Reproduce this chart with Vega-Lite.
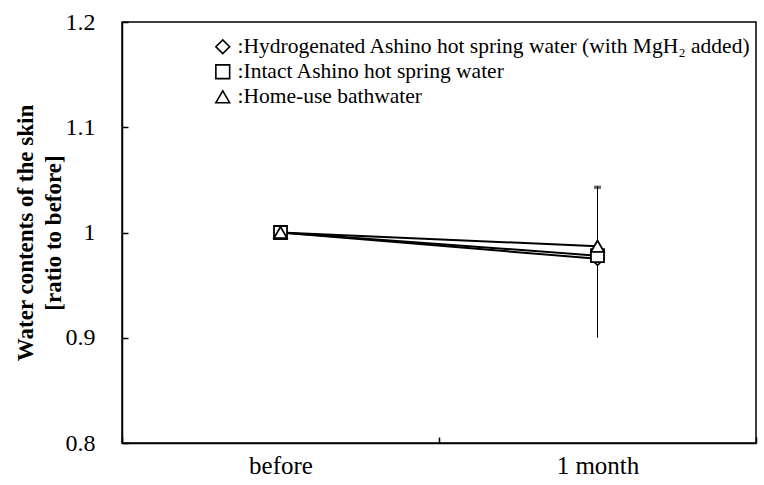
{
  "$schema": "https://vega.github.io/schema/vega-lite/v6.json",
  "width": 634,
  "height": 421,
  "autosize": "none",
  "padding": {"left": 122, "top": 22, "right": 8, "bottom": 42},
  "background": "white",
  "config": {
    "view": {"stroke": "black", "strokeWidth": 1.5},
    "font": "Liberation Serif",
    "axis": {"labelFont": "Liberation Serif", "titleFont": "Liberation Serif", "labelColor": "black", "titleColor": "black", "domainColor": "black", "tickColor": "black", "domainWidth": 1.5, "tickWidth": 1.5, "grid": false}
  },
  "data": {
    "values": [
      {"time": "before", "group": "Hydrogenated Ashino hot spring water (with MgH₂ added)", "value": 1.0},
      {"time": "before", "group": "Intact Ashino hot spring water", "value": 1.0},
      {"time": "before", "group": "Home-use bathwater", "value": 1.0},
      {"time": "1 month", "group": "Hydrogenated Ashino hot spring water (with MgH₂ added)", "value": 0.975, "lo": 0.9, "hi": 1.044},
      {"time": "1 month", "group": "Intact Ashino hot spring water", "value": 0.978, "lo": 0.912, "hi": 1.042},
      {"time": "1 month", "group": "Home-use bathwater", "value": 0.987, "lo": 0.93, "hi": 1.043}
    ]
  },
  "encoding": {
    "x": {
      "field": "time", "type": "nominal", "sort": ["before", "1 month"],
      "scale": {"type": "band", "paddingInner": 0, "paddingOuter": 0},
      "axis": {"title": null, "labelAngle": 0, "labelFontSize": 25, "tickBand": "extent", "tickSize": -6, "labelPadding": 16}
    }
  },
  "layer": [
    {
      "mark": {"type": "line", "color": "black", "strokeWidth": 2},
      "encoding": {
        "y": {
          "field": "value", "type": "quantitative",
          "scale": {"domain": [0.8, 1.2], "nice": false, "zero": false},
          "axis": {"values": [0.8, 0.9, 1.0, 1.1, 1.2], "format": ".1~f", "labelFontSize": 24, "tickSize": -6, "labelPadding": 33,
                   "title": ["Water contents of the skin", "[ratio to before]"], "titleFontSize": 23, "titleFontWeight": "bold", "titlePadding": 0, "titleLineHeight": 28}
        },
        "detail": {"field": "group"}
      }
    },
    {
      "transform": [{"filter": "isValid(datum.hi)"}],
      "mark": {"type": "rule", "color": "black", "strokeWidth": 1},
      "encoding": {"y": {"field": "lo", "type": "quantitative"}, "y2": {"field": "hi"}}
    },
    {
      "transform": [{"filter": "isValid(datum.hi)"}],
      "mark": {"type": "tick", "color": "black", "size": 7, "thickness": 1},
      "encoding": {"y": {"field": "hi", "type": "quantitative"}}
    },
    {
      "mark": {"type": "point", "filled": false, "color": "black", "fill": "white", "opacity": 1, "strokeWidth": 1.8, "size": 170},
      "encoding": {
        "y": {"field": "value", "type": "quantitative"},
        "shape": {
          "field": "group", "type": "nominal",
          "sort": ["Hydrogenated Ashino hot spring water (with MgH₂ added)", "Intact Ashino hot spring water", "Home-use bathwater"],
          "scale": {"domain": ["Hydrogenated Ashino hot spring water (with MgH₂ added)", "Intact Ashino hot spring water", "Home-use bathwater"], "range": ["diamond", "square", "triangle-up"]},
          "legend": {
            "title": null, "orient": "none", "legendX": 90, "legendY": 14,
            "labelFont": "Liberation Serif", "labelFontSize": 21.5, "labelColor": "black", "labelLimit": 0,
            "labelExpr": "':' + datum.label",
            "symbolSize": 190, "symbolStrokeWidth": 1.6
          }
        }
      }
    }
  ]
}
